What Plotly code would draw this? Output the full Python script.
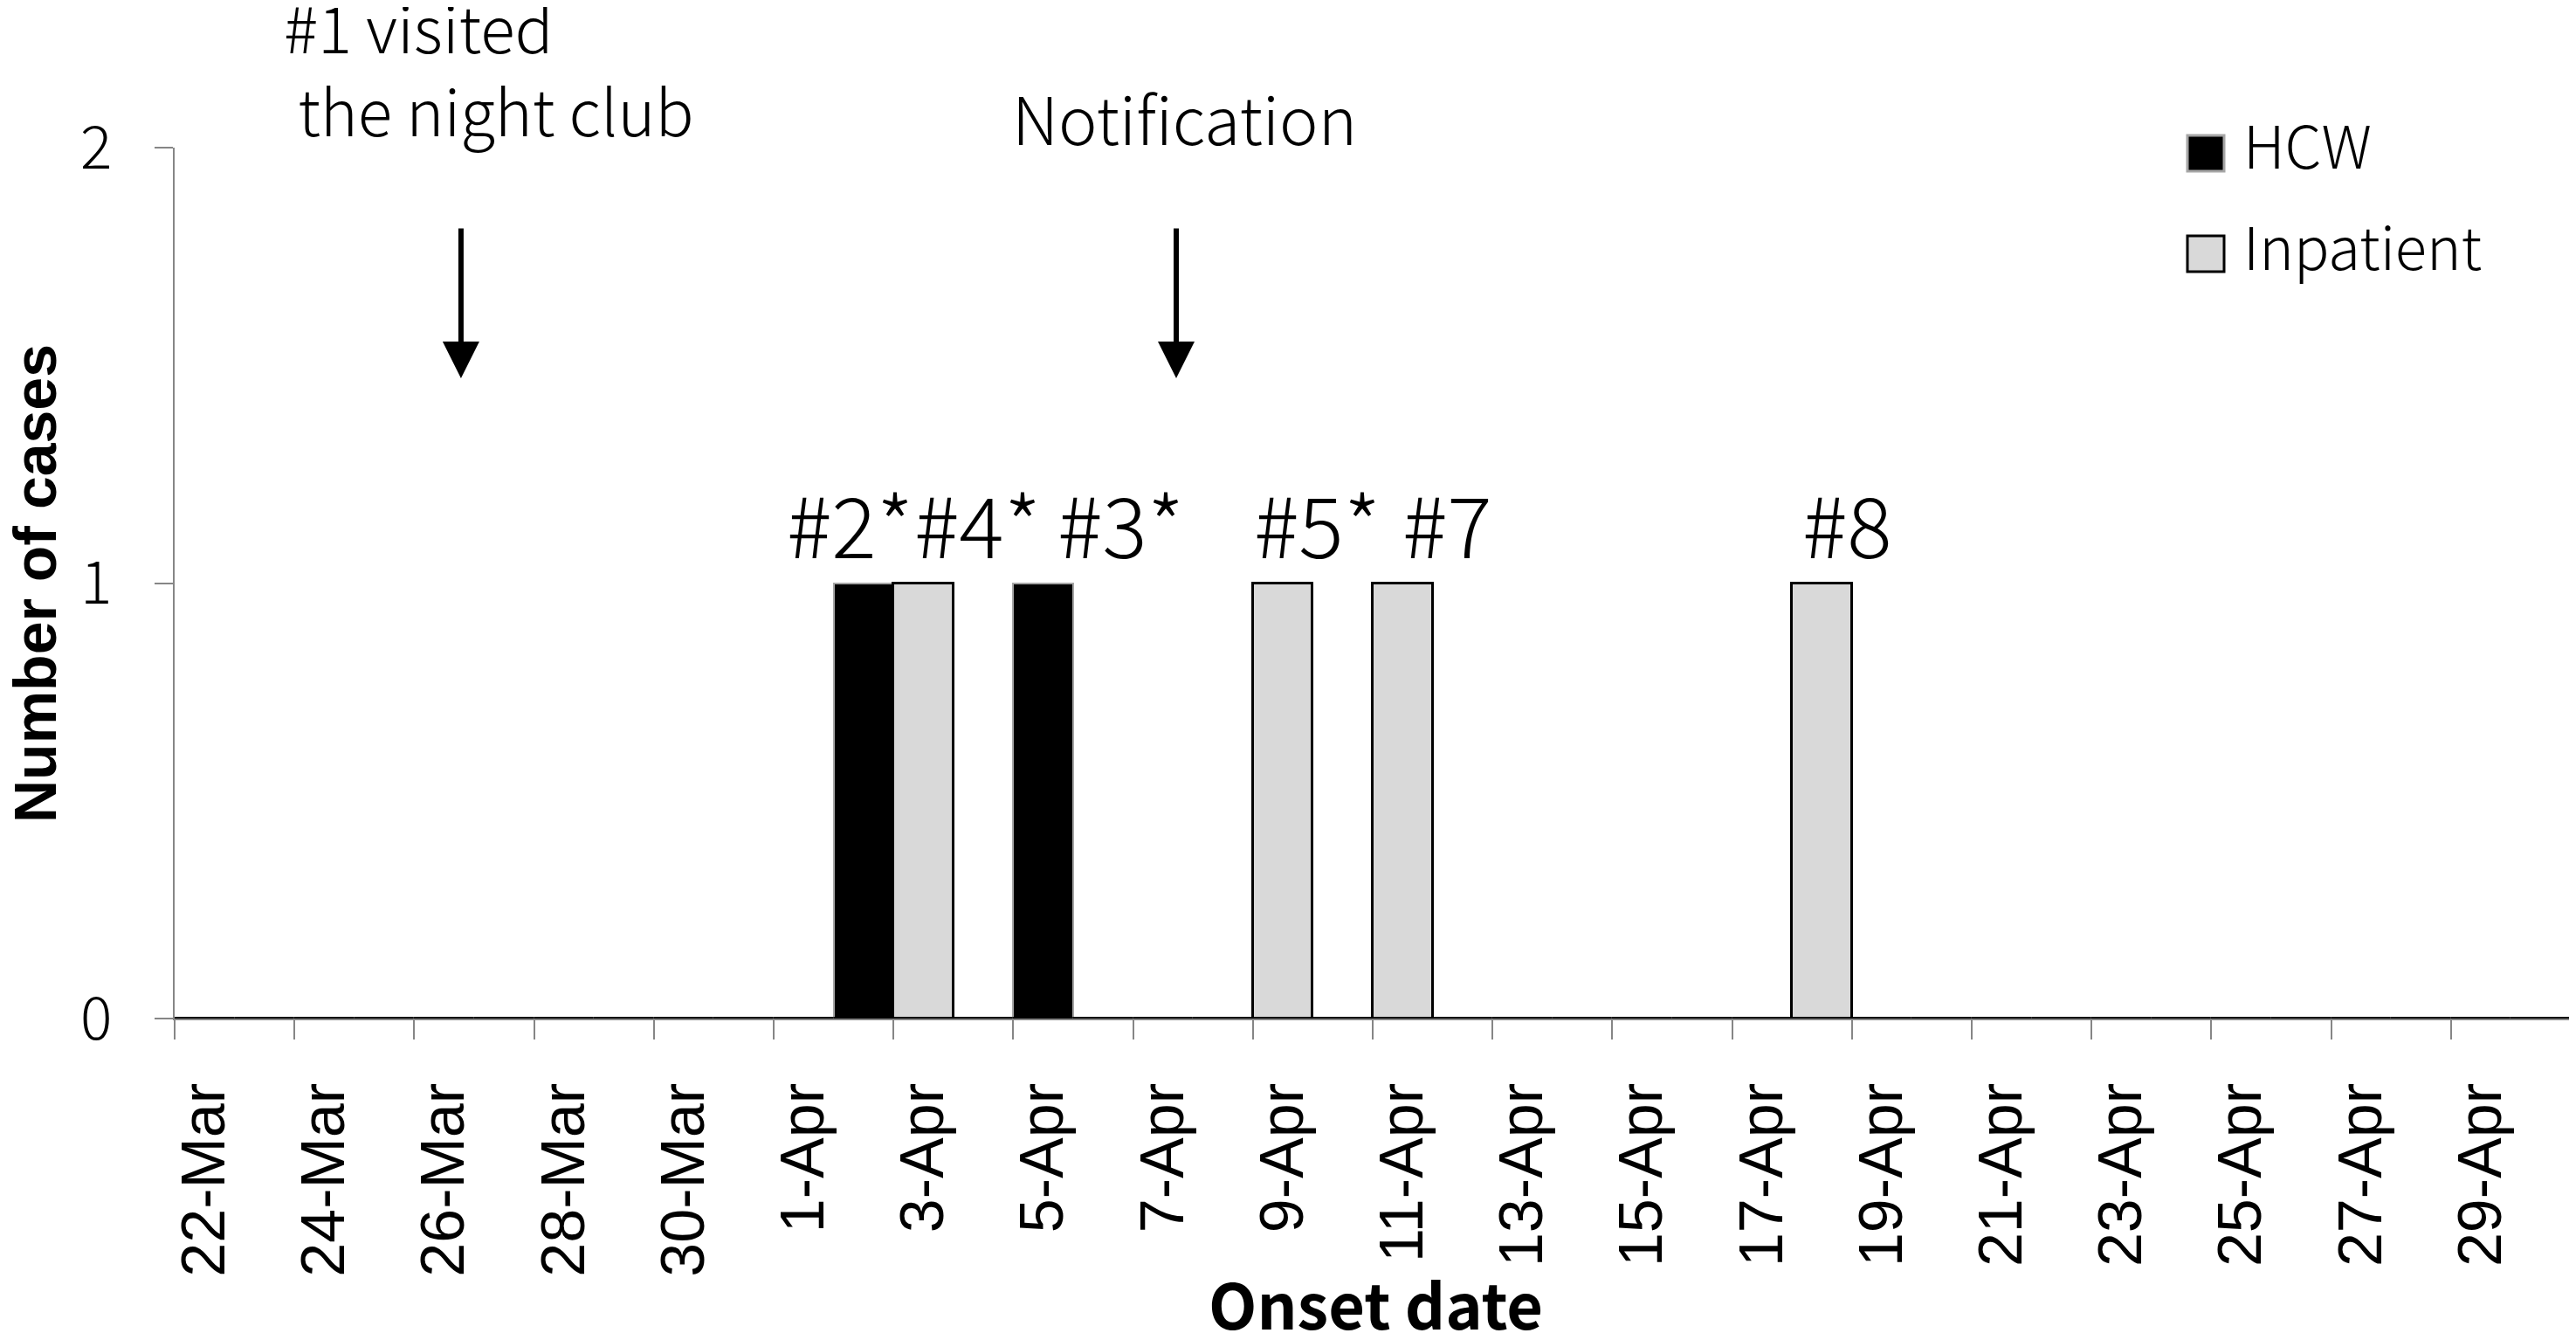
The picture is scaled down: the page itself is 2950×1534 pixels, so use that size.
import plotly.graph_objects as go

# ---------------- data ----------------
DATES = ["22-Mar", "23-Mar", "24-Mar", "25-Mar", "26-Mar", "27-Mar", "28-Mar", "29-Mar", "30-Mar", "31-Mar",
         "1-Apr", "2-Apr", "3-Apr", "4-Apr", "5-Apr", "6-Apr", "7-Apr", "8-Apr", "9-Apr", "10-Apr",
         "11-Apr", "12-Apr", "13-Apr", "14-Apr", "15-Apr", "16-Apr", "17-Apr", "18-Apr", "19-Apr", "20-Apr",
         "21-Apr", "22-Apr", "23-Apr", "24-Apr", "25-Apr", "26-Apr", "27-Apr", "28-Apr", "29-Apr", "30-Apr"]
HCW = [0, 0, 0, 0, 0, 0, 0, 0, 0, 0,
       0, 1, 0, 0, 1, 0, 0, 0, 0, 0,
       0, 0, 0, 0, 0, 0, 0, 0, 0, 0,
       0, 0, 0, 0, 0, 0, 0, 0, 0, 0]
INPATIENT = [0, 0, 0, 0, 0, 0, 0, 0, 0, 0,
             0, 0, 1, 0, 0, 0, 0, 0, 1, 0,
             1, 0, 0, 0, 0, 0, 0, 1, 0, 0,
             0, 0, 0, 0, 0, 0, 0, 0, 0, 0]
TICK_LABELS = DATES[::2]
Y_TICKS = [0, 1, 2]
CASE_DATES = ["2-Apr", "3-Apr", "5-Apr", "9-Apr", "11-Apr", "18-Apr"]
CASE_LABELS = ["#2*", "#4*", "#3*", "#5*", "#7", "#8"]
LABEL_DX = [-0.23, 0.90, 1.29, 0.57, 0.75, 0.42]   # text-box offsets (layout)
SERIES_NAMES = ["HCW", "Inpatient"]
EVENT_TEXTS = ["#1 visited<br>\u00a0the night club", "Notification"]

# ---------------- styling / layout ----------------
JP = "Noto Sans CJK JP"
ARIAL = "Liberation Sans"
AXIS_GRAY = "#868686"
OFF = 8                      # default page body margin
W, H = 2950 - OFF, 1534 - OFF
L, T = 200 - OFF, 169 - OFF
R = W - (2944 - OFF)
B = H - (1166 - OFF)
PW, PH = W - L - R, H - T - B


def px_x(page_x):
    return (page_x - OFF - L) / PW


def px_y(page_y):
    return (H - B - (page_y - OFF)) / PH


xs = list(range(len(DATES)))

fig = go.Figure()
fig.add_trace(go.Bar(x=xs, y=HCW, name=SERIES_NAMES[0],
                     marker=dict(color="#000000", line=dict(color="#a6a6a6", width=2)),
                     showlegend=False))
fig.add_trace(go.Bar(x=xs, y=INPATIENT, name=SERIES_NAMES[1],
                     marker=dict(color="#d9d9d9", line=dict(color="#000000", width=3)),
                     showlegend=False))

annotations = []
# case labels above bars
for d, lab, dx in zip(CASE_DATES, CASE_LABELS, LABEL_DX):
    annotations.append(dict(x=DATES.index(d) + dx, y=1, xref="x", yref="y", text=lab,
                            showarrow=False, xanchor="center", yanchor="middle", yshift=70,
                            font=dict(family=JP, size=96, color="black", weight=300)))

# event texts
annotations.append(dict(x=px_x(323), y=px_y(77), xref="paper", yref="paper", text=EVENT_TEXTS[0],
                        showarrow=False, xanchor="left", yanchor="middle", align="left",
                        font=dict(family=JP, size=73, color="black", weight=300)))
annotations.append(dict(x=px_x(1356), y=px_y(134), xref="paper", yref="paper", text=EVENT_TEXTS[1],
                        showarrow=False, xanchor="center", yanchor="middle",
                        font=dict(family=JP, size=75, color="black", weight=300)))
# arrows (tip positions in axis units)
for ax_x in [4.28, 16.22]:
    annotations.append(dict(x=ax_x, y=1.4704, xref="x", yref="y", text="",
                            showarrow=True, ax=0, ay=-173, arrowhead=2, arrowwidth=6,
                            arrowsize=1.4, arrowcolor="black"))

# legend (manual, Excel-style large swatches)
shapes = []
legend_items = [(SERIES_NAMES[0], "#000000", "#a6a6a6", 155, 196, 164),
                (SERIES_NAMES[1], "#d9d9d9", "#000000", 270, 311, 279)]
for name, fill, edge, y_top, y_bot, y_txt in legend_items:
    shapes.append(dict(type="rect", xref="paper", yref="paper",
                       x0=px_x(2505), x1=px_x(2547), y0=px_y(y_bot), y1=px_y(y_top),
                       fillcolor=fill, line=dict(color=edge, width=3)))
    annotations.append(dict(x=px_x(2567), y=px_y(y_txt), xref="paper", yref="paper", text=name,
                            showarrow=False, xanchor="left", yanchor="middle",
                            font=dict(family=JP, size=67, color="black", weight=300)))

# axis titles
annotations.append(dict(x=px_x(40), y=px_y(668), xref="paper", yref="paper", text="<b>Number of cases</b>",
                        showarrow=False, xanchor="center", yanchor="middle", textangle=-90,
                        font=dict(family=ARIAL, size=68, color="black")))
annotations.append(dict(x=px_x(1575), y=px_y(1490), xref="paper", yref="paper", text="<b>Onset date</b>",
                        showarrow=False, xanchor="center", yanchor="middle",
                        font=dict(family=JP, size=72, color="black")))

fig.update_layout(
    width=W, height=H,
    margin=dict(l=L, r=R, t=T, b=B, pad=0),
    paper_bgcolor="white", plot_bgcolor="white",
    barmode="overlay", bargap=0,
    showlegend=False,
    annotations=annotations,
    shapes=shapes,
    xaxis=dict(range=[-0.5, len(DATES) - 0.5], tickmode="array",
               tickvals=xs[::2], ticktext=TICK_LABELS, tickangle=-90,
               ticks="", ticklabelstandoff=44,
               tickfont=dict(family=ARIAL, size=70, color="black"),
               showline=True, linecolor=AXIS_GRAY, linewidth=2,
               showgrid=False, zeroline=False,
               minor=dict(tick0=-0.5, dtick=2, ticks="outside", ticklen=22,
                          tickcolor=AXIS_GRAY, tickwidth=2, showgrid=False)),
    yaxis=dict(range=[0, 2], tickmode="array", tickvals=Y_TICKS,
               ticks="outside", ticklen=21, tickcolor=AXIS_GRAY, tickwidth=2,
               ticklabelstandoff=35,
               tickfont=dict(family=JP, size=68, color="black", weight=300),
               showline=True, linecolor=AXIS_GRAY, linewidth=2,
               showgrid=False, zeroline=False),
)

fig.write_html("out.html")
